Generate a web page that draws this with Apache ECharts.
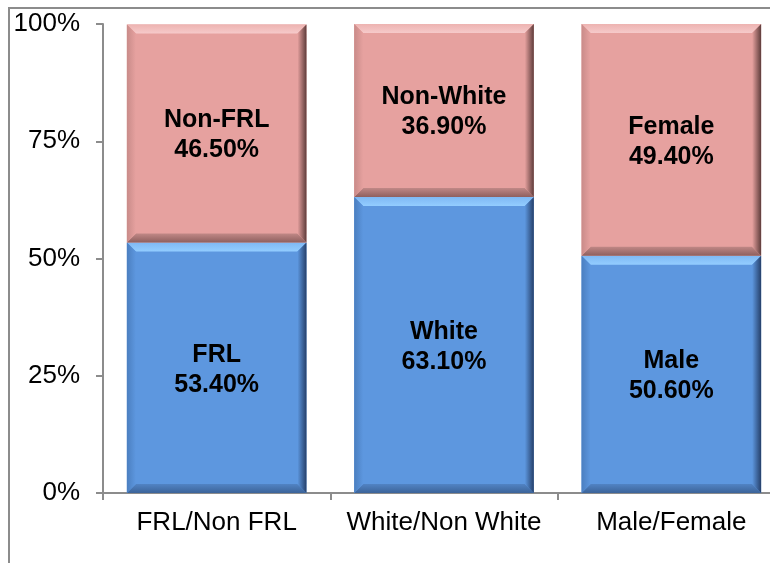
<!DOCTYPE html>
<html>
<head>
<meta charset="utf-8">
<script src="https://cdn.jsdelivr.net/npm/echarts@6/dist/echarts.min.js"></script>
<style>
  html, body { margin: 0; padding: 0; background: #fff; overflow: hidden; }
  #main { width: 800px; height: 563px; }
</style>
</head>
<body>
<div id="main"></div>
<script>
  const categories = ['FRL/Non FRL', 'White/Non White', 'Male/Female']
  const bottomNames = ['FRL', 'White', 'Male']
  const bottomValues = [53.4, 63.1, 50.6]
  const topNames = ['Non-FRL', 'Non-White', 'Female']
  const topValues = [46.5, 36.9, 49.4]
  const yTicks = [0, 25, 50, 75, 100]

  const font = 'Liberation Sans, Arial, sans-serif'
  const bevel = 9

  // beveled bar segment, coords come from the axes
  function makeRender(names, pal) {
    return function (params, api) {
      const idx = api.value(0)
      const p0 = api.coord([idx, api.value(1)])
      const p1 = api.coord([idx, api.value(2)])
      const bw = api.size([1, 0])[0] * 0.79
      const l = p0[0] - bw / 2, r = l + bw, t = p1[1], b = p0[1]
      const v = api.value(2) - api.value(1)
      return {
        type: 'group',
        children: [
          { type: 'rect', shape: { x: l, y: t, width: bw, height: b - t }, style: { fill: pal.base } },
          { type: 'polygon', shape: { points: [[l, t], [r, t], [r - bevel, t + bevel], [l + bevel, t + bevel]] },
            style: { fill: new echarts.graphic.LinearGradient(0, 0, 0, 1, [{ offset: 0, color: pal.top0 }, { offset: 1, color: pal.top1 }]) } },
          { type: 'polygon', shape: { points: [[l, b], [r, b], [r - bevel, b - bevel], [l + bevel, b - bevel]] },
            style: { fill: new echarts.graphic.LinearGradient(0, 0, 0, 1, [{ offset: 0, color: pal.bot0 }, { offset: 1, color: pal.bot1 }]) } },
          { type: 'polygon', shape: { points: [[l, t], [l + bevel, t + bevel], [l + bevel, b - bevel], [l, b]] },
            style: { fill: new echarts.graphic.LinearGradient(0, 0, 1, 0, [{ offset: 0, color: pal.left0 }, { offset: 1, color: pal.base }]) } },
          { type: 'polygon', shape: { points: [[r, t], [r - bevel, t + bevel], [r - bevel, b - bevel], [r, b]] },
            style: { fill: new echarts.graphic.LinearGradient(0, 0, 1, 0, [{ offset: 0, color: pal.base }, { offset: 1, color: pal.right1 }]) } },
          { type: 'text', style: {
              text: names[idx] + '\n' + v.toFixed(2) + '%',
              x: (l + r) / 2, y: (t + b) / 2 + 2,
              align: 'center', verticalAlign: 'middle',
              font: 'bold 25px ' + font, fill: '#000', lineHeight: 30 } }
        ]
      }
    }
  }

  const bluePal = { base: '#5D97DF', top0: '#7FB8F4', top1: '#93CDFF', bot0: '#5183C4', bot1: '#3C6499', left0: '#4B7FC0', right1: '#26406A' }
  const pinkPal = { base: '#E6A19F', top0: '#EDB3B1', top1: '#F6CACA', bot0: '#C08886', bot1: '#8E5F5E', left0: '#C98B89', right1: '#5E3C3B' }

  const bottomData = bottomValues.map((v, i) => [i, 0, v])
  const topData = topValues.map((v, i) => [i, bottomValues[i], bottomValues[i] + v])

  const chart = echarts.init(document.getElementById('main'))
  chart.setOption({
    animation: false,
    graphic: [{
      type: 'rect', z: -1,
      shape: { x: 9, y: 8, width: 820, height: 620 },
      style: { fill: 'none', stroke: '#8c8c8c', lineWidth: 2 }
    }],
    grid: { left: 103, top: 24, right: 15, bottom: 70 },
    xAxis: {
      type: 'category',
      data: categories,
      axisLine: { lineStyle: { color: '#8c8c8c', width: 2 } },
      axisTick: { show: true, length: 7, lineStyle: { color: '#8c8c8c', width: 2 } },
      axisLabel: { color: '#000', fontSize: 26, fontFamily: font, margin: 17, interval: 0 }
    },
    yAxis: {
      type: 'value',
      min: yTicks[0],
      max: yTicks[yTicks.length - 1],
      interval: 25,
      axisLine: { show: true, lineStyle: { color: '#8c8c8c', width: 2 } },
      axisTick: { show: true, length: 7, lineStyle: { color: '#8c8c8c', width: 2 } },
      splitLine: { show: false },
      axisLabel: { color: '#000', fontSize: 26, fontFamily: font, margin: 23, formatter: '{value}%' }
    },
    series: [
      { type: 'custom', renderItem: makeRender(bottomNames, bluePal), data: bottomData, encode: { x: 0, y: [1, 2] } },
      { type: 'custom', renderItem: makeRender(topNames, pinkPal), data: topData, encode: { x: 0, y: [1, 2] } }
    ]
  })
</script>
</body>
</html>
